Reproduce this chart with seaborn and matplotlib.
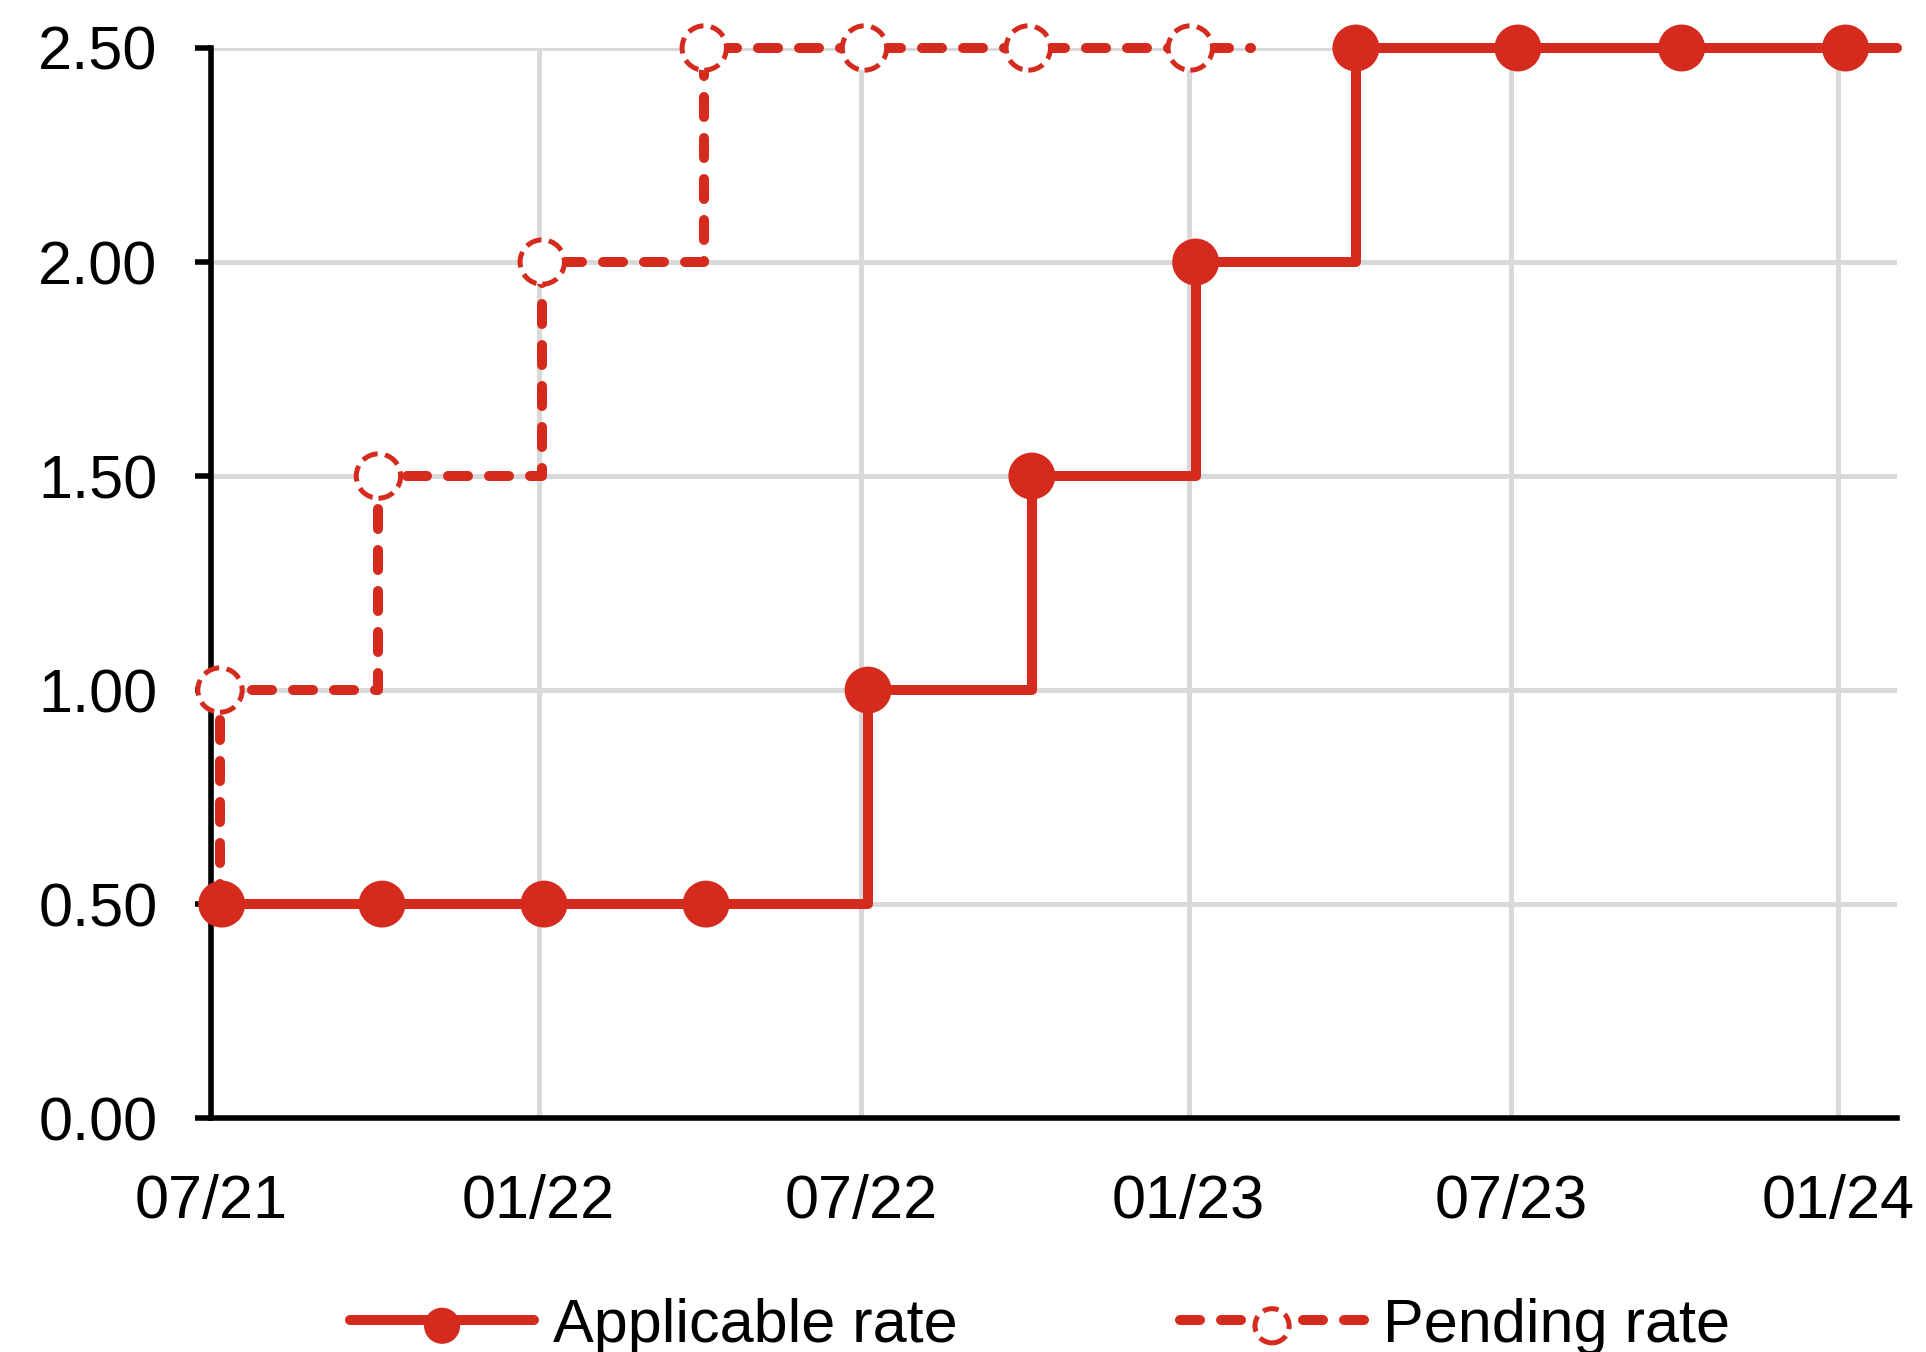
import matplotlib
matplotlib.use("Agg")
import matplotlib.pyplot as plt
import matplotlib.dates as mdates
from matplotlib.lines import Line2D
from matplotlib.legend_handler import HandlerTuple
import pandas as pd
import seaborn as sns

# Policy rate path (percent)
applicable_dates = ["2021-07-07", "2021-10-05", "2022-01-04", "2022-04-05",
                    "2022-07-05", "2022-10-05", "2023-01-05", "2023-04-05",
                    "2023-07-05", "2023-10-05", "2024-01-05"]
applicable_rate = [0.50, 0.50, 0.50, 0.50, 1.00, 1.50, 2.00, 2.50, 2.50, 2.50, 2.50]
applicable_end = "2024-02-03"

pending_dates = ["2021-07-06", "2021-10-03", "2022-01-03", "2022-04-04",
                 "2022-07-03", "2022-10-03", "2023-01-02"]
pending_rate = [1.00, 1.50, 2.00, 2.50, 2.50, 2.50, 2.50]
pending_end = "2023-02-05"

y_ticks = [0.00, 0.50, 1.00, 1.50, 2.00, 2.50]
x_range = ["2021-07-01", "2024-02-03"]
series_labels = ["Applicable rate", "Pending rate"]

RED = "#D52B1E"
GRID = "#D9D9D9"

sns.set_style("white")
plt.rcParams["font.family"] = ["Liberation Sans", "DejaVu Sans"]
plt.rcParams["text.color"] = "black"
plt.rcParams["xtick.color"] = "black"
plt.rcParams["ytick.color"] = "black"

# marker frames
app_pts = pd.DataFrame({"date": pd.to_datetime(applicable_dates), "rate": applicable_rate})
pend_pts = pd.DataFrame({"date": pd.to_datetime(pending_dates), "rate": pending_rate})

# step-line frames (each line held flat until its end date)
app_line = pd.concat([app_pts, pd.DataFrame({"date": [pd.Timestamp(applicable_end)],
                                             "rate": [applicable_rate[-1]]})],
                     ignore_index=True)
pend_line = pd.concat([pd.DataFrame({"date": [pd.Timestamp(pending_dates[0])],
                                     "rate": [applicable_rate[0]]}),
                       pend_pts,
                       pd.DataFrame({"date": [pd.Timestamp(pending_end)],
                                     "rate": [pending_rate[-1]]})],
                      ignore_index=True)

fig = plt.figure(figsize=(19.26, 13.52), dpi=100)
ax = fig.add_axes([0.1096, 0.173, 0.985 - 0.1096, 0.9645 - 0.173])

LW = 7.2
sns.lineplot(data=pend_line, x="date", y="rate", ax=ax, estimator=None, sort=False,
             color=RED, lw=LW, drawstyle="steps-post", linestyle=(0, (2.0, 2.1)),
             dash_capstyle="round", clip_on=False, zorder=2)
sns.lineplot(data=app_line, x="date", y="rate", ax=ax, estimator=None, sort=False,
             color=RED, lw=LW, drawstyle="steps-post", solid_joinstyle="round",
             clip_on=False, zorder=3)

sns.scatterplot(data=pend_pts, x="date", y="rate", ax=ax, s=1020, color="white",
                edgecolor=RED, linewidth=3.6, linestyle=(0, (3.2, 1.5)),
                clip_on=False, zorder=4)
pend_sc = ax.collections[-1]
sns.scatterplot(data=app_pts, x="date", y="rate", ax=ax, s=1140, color=RED,
                edgecolor="none", linewidth=0, clip_on=False, zorder=5)
app_sc = ax.collections[-1]

ax.set_xlim(pd.Timestamp(x_range[0]), pd.Timestamp(x_range[1]))
ax.set_ylim(y_ticks[0], y_ticks[-1])
ax.set_yticks(y_ticks)
ax.yaxis.set_major_formatter(matplotlib.ticker.FormatStrFormatter("%.2f"))
ax.xaxis.set_major_locator(mdates.MonthLocator(bymonth=[1, 7]))
ax.xaxis.set_major_formatter(mdates.DateFormatter("%m/%y"))
ax.set_xlabel("")
ax.set_ylabel("")

ax.set_axisbelow(True)
ax.grid(True, color=GRID, lw=3.6)
for side in ["top", "right"]:
    ax.spines[side].set_visible(False)
for side in ["left", "bottom"]:
    ax.spines[side].set_color("black")
    ax.spines[side].set_linewidth(4.0)

ax.tick_params(axis="y", which="major", length=11.5, width=4.0, pad=27,
               labelsize=44, colors="black", left=True)
ax.tick_params(axis="x", which="major", length=0, pad=40, labelsize=44,
               colors="black")

h_app = Line2D([], [], color=RED, lw=LW, solid_capstyle="round")
h_pend = Line2D([], [], color=RED, lw=LW, linestyle=(0, (2.0, 2.1)),
                dash_capstyle="round")
fig.legend(handles=[(h_app, app_sc), (h_pend, pend_sc)], labels=series_labels,
           handler_map={tuple: HandlerTuple(ndivide=1)},
           loc="center", bbox_to_anchor=(0.540, 0.019), ncol=2, frameon=False,
           fontsize=44, handlelength=3.0, handletextpad=0.31, columnspacing=3.65,
           markerscale=0.77, borderpad=0, scatterpoints=1, labelcolor="black")

fig.savefig("out.png", dpi=100)
